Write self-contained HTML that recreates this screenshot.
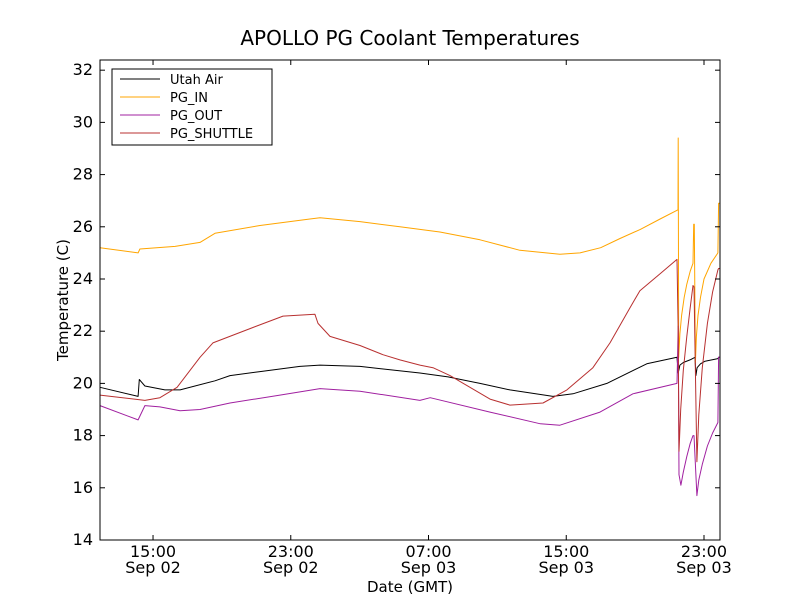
<!DOCTYPE html>
<html><head><meta charset="utf-8"><style>
body{margin:0;background:#fff;width:800px;height:600px;overflow:hidden}
svg{font-family:"DejaVu Sans","Liberation Sans",sans-serif}
</style></head><body>
<svg id="chart" width="800" height="600">
<rect x="0" y="0" width="800" height="600" fill="#fff"/>
<text x="410" y="45" font-size="20" text-anchor="middle">APOLLO PG Coolant Temperatures</text>
<g id="marks"></g>
<rect x="100" y="60" width="620" height="480" fill="none" stroke="#000" stroke-width="1"/>
<g id="axes"></g>
<text x="410" y="592" font-size="15" text-anchor="middle">Date (GMT)</text>
<text transform="translate(68,300) rotate(-90)" font-size="15" text-anchor="middle">Temperature (C)</text>
<g>
<rect x="112" y="69" width="160" height="76" fill="#fff" stroke="#000"/>
<line x1="120" y1="79" x2="160" y2="79" stroke="#000"/><text x="170" y="84" font-size="13">Utah Air</text>
<line x1="120" y1="97" x2="160" y2="97" stroke="orange"/><text x="170" y="102" font-size="13">PG_IN</text>
<line x1="120" y1="115" x2="160" y2="115" stroke="#a020a0"/><text x="170" y="120" font-size="13">PG_OUT</text>
<line x1="120" y1="133" x2="160" y2="133" stroke="#b83030"/><text x="170" y="138" font-size="13">PG_SHUTTLE</text>
</g>
</svg>
<script>
const xTicks=[15,23,31,39,47];
const xTickTop=["15:00","23:00","07:00","15:00","23:00"];
const xTickBottom=["Sep 02","Sep 02","Sep 03","Sep 03","Sep 03"];
const yTicks=[14,16,18,20,22,24,26,28,30,32];
const airT=[11.92,14.13,14.2,14.53,15.69,16.57,18.6,19.47,21.21,23.53,24.7,27.02,30.5,32.13,33.99,35.73,38.23,39.39,41.36,43.68,45.43,45.5,45.6,45.8,46.19,46.48,46.53,46.6,46.8,47.06,47.81,47.85,47.9];
const airV=[19.85,19.5,20.15,19.9,19.75,19.75,20.1,20.3,20.45,20.65,20.7,20.65,20.4,20.25,20.0,19.75,19.5,19.6,20.0,20.75,21.0,20.4,20.7,20.8,20.9,21.0,20.3,20.6,20.75,20.85,20.95,21.0,21.0];
const inT=[11.92,14.13,14.24,16.28,17.73,18.6,21.21,24.11,24.7,27.02,29.34,31.66,33.99,36.31,38.63,39.8,41.0,42.12,43.3,44.45,45.49,45.5,45.53,45.6,45.7,45.85,46.0,46.2,46.36,46.4,46.44,46.5,46.56,46.65,46.8,47.0,47.4,47.81,47.85,47.9];
const inV=[25.2,25.0,25.15,25.25,25.4,25.75,26.05,26.3,26.35,26.2,26.0,25.8,25.5,25.1,24.95,25.0,25.2,25.55,25.9,26.3,26.65,29.4,21.0,21.9,22.6,23.3,23.8,24.3,24.6,26.1,26.1,20.8,21.8,22.6,23.3,24.0,24.6,25.0,26.9,26.9];
const outT=[11.92,14.13,14.53,15.4,16.57,17.73,19.47,22.37,24.7,27.02,30.5,31.1,34.57,37.5,38.63,40.96,42.87,45.43,45.5,45.55,45.66,45.8,46.0,46.2,46.36,46.42,46.59,46.7,46.9,47.2,47.5,47.81,47.85,47.9];
const outV=[19.15,18.6,19.15,19.1,18.95,19.0,19.25,19.55,19.8,19.7,19.35,19.45,18.9,18.45,18.4,18.9,19.6,20.0,22.2,16.5,16.1,16.6,17.2,17.7,18.0,18.0,15.7,16.3,16.9,17.6,18.1,18.5,21.0,21.0];
const shT=[11.92,14.53,15.4,16.4,17.73,18.48,20.63,22.55,24.4,24.58,25.28,27.02,28.35,29.34,30.5,31.26,32.25,34.57,35.73,37.65,39.04,40.55,41.54,42.7,43.28,44.45,45.43,45.5,45.55,45.65,45.8,46.0,46.2,46.36,46.42,46.59,46.7,46.9,47.2,47.5,47.81,47.85,47.9];
const shV=[19.55,19.35,19.45,19.85,21.0,21.55,22.1,22.58,22.65,22.3,21.8,21.45,21.1,20.9,20.7,20.6,20.3,19.4,19.17,19.25,19.75,20.6,21.55,22.9,23.55,24.2,24.75,22.0,17.4,19.0,20.5,21.8,22.9,23.75,23.7,17.0,18.8,20.6,22.3,23.5,24.35,24.4,24.4];
const X0=11.92,X1=47.93,Y0=14,Y1=32.39;
const sx=h=>100+(h-X0)/(X1-X0)*620;
const sy=v=>540-(v-Y0)/(Y1-Y0)*480;
const NS="http://www.w3.org/2000/svg";
const axes=document.getElementById('axes');
xTicks.forEach((t,i)=>{
  const x=sx(t);
  const l=document.createElementNS(NS,'line');
  l.setAttribute('x1',x);l.setAttribute('x2',x);l.setAttribute('y1',540);l.setAttribute('y2',535);l.setAttribute('stroke','#000');
  
  
  axes.appendChild(l);
  const l2=l.cloneNode();l2.setAttribute('y1',60);l2.setAttribute('y2',65);axes.appendChild(l2);
  const tx=document.createElementNS(NS,'text');
  tx.setAttribute('x',x);tx.setAttribute('y',557);tx.setAttribute('font-size','16');tx.setAttribute('text-anchor','middle');
  
  
  tx.innerHTML='<tspan x="'+x+'">'+xTickTop[i]+'</tspan><tspan x="'+x+'" dy="16">'+xTickBottom[i]+'</tspan>';
  axes.appendChild(tx);
});
yTicks.forEach(t=>{
  const y=sy(t);
  const l=document.createElementNS(NS,'line');
  l.setAttribute('x1',100);l.setAttribute('x2',105);l.setAttribute('y1',y);l.setAttribute('y2',y);l.setAttribute('stroke','#000');
  
  
  axes.appendChild(l);
  const l2=l.cloneNode();l2.setAttribute('x1',720);l2.setAttribute('x2',715);axes.appendChild(l2);
  const tx=document.createElementNS(NS,'text');
  tx.setAttribute('x',93);tx.setAttribute('y',y+5);tx.setAttribute('font-size','16');tx.setAttribute('text-anchor','end');
  
  
  tx.textContent=t;
  axes.appendChild(tx);
});
const marks=document.getElementById('marks');
function line(T,V,color,name){
  const p=document.createElementNS(NS,'polyline');
  p.setAttribute('points',T.map((t,i)=>sx(t).toFixed(1)+','+sy(V[i]).toFixed(1)).join(' '));
  p.setAttribute('fill','none');p.setAttribute('stroke',color);p.setAttribute('stroke-width','1');
  p.setAttribute('stroke-linejoin','round');
  
  
  marks.appendChild(p);
}
line(airT,airV,'#000','utah-air-line');
line(inT,inV,'orange','pg-in-line');
line(outT,outV,'#a020a0','pg-out-line');
line(shT,shV,'#b83030','pg-shuttle-line');
</script>
</body></html>
